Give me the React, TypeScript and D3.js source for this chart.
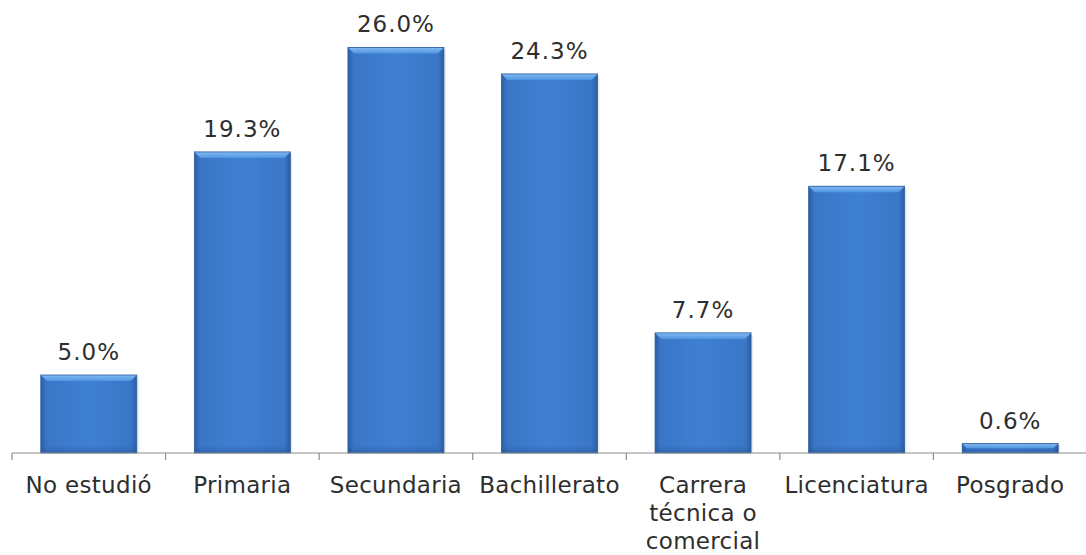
import React from "react";
import * as d3 from "d3";

const categories: string[][] = [
  ["No estudió"],
  ["Primaria"],
  ["Secundaria"],
  ["Bachillerato"],
  ["Carrera", "técnica o", "comercial"],
  ["Licenciatura"],
  ["Posgrado"],
];
const values: number[] = [5.0, 19.3, 26.0, 24.3, 7.7, 17.1, 0.6];
const valueLabels: string[] = ["5.0%", "19.3%", "26.0%", "24.3%", "7.7%", "17.1%", "0.6%"];

const W = 1086;
const H = 555;
const axisY = 453;

export default function App() {
  const ids = categories.map((_, i) => i);
  const x = d3.scaleBand<number>().domain(ids).range([12, 12 + 153.57 * 7]).paddingInner(0).paddingOuter(0);
  const y = d3.scaleLinear().domain([0, 28]).range([axisY, axisY - 28 * 15.6]);
  const bw = x.bandwidth();
  const barW = bw * 0.625;
  const font = "'DejaVu Sans', Verdana, sans-serif";

  return (
    <svg width={W} height={H} style={{ position: "absolute", left: 0, top: 0, background: "#fff" }}>
      <defs>
        <linearGradient id="body" x1="0" x2="1" y1="0" y2="0">
          <stop offset="0" stopColor="#2a5ea6" />
          <stop offset="0.06" stopColor="#3a76c6" />
          <stop offset="0.5" stopColor="#3f80d3" />
          <stop offset="0.94" stopColor="#3a76c6" />
          <stop offset="1" stopColor="#2a5ea6" />
        </linearGradient>
        <linearGradient id="bevel" x1="0" x2="0" y1="0" y2="1">
          <stop offset="0" stopColor="#82b9f2" />
          <stop offset="1" stopColor="#5096e2" />
        </linearGradient>
        <linearGradient id="bottom" x1="0" x2="0" y1="0" y2="1">
          <stop offset="0" stopColor="#2a5ea6" stopOpacity="0" />
          <stop offset="1" stopColor="#22508f" stopOpacity="0.5" />
        </linearGradient>
      </defs>
      {values.map((v, i) => {
        const cx = (x(i) as number) + bw / 2;
        const x0 = cx - barW / 2;
        const top = y(v);
        const h = axisY - top;
        const bev = Math.min(6, h / 2);
        return (
          <g key={i}>
            <rect x={x0 + 2} y={top + 2} width={barW} height={h - 2} fill="#000" opacity={0.08} />
            <rect x={x0} y={top} width={barW} height={h} fill="url(#body)" />
            <rect x={x0} y={axisY - Math.min(8, h)} width={barW} height={Math.min(8, h)} fill="url(#bottom)" />
            <path
              d={`M${x0},${top} L${x0 + barW},${top} L${x0 + barW - bev},${top + bev} L${x0 + bev},${top + bev} Z`}
              fill="url(#bevel)"
            />
            <rect x={x0} y={top} width={barW} height={h} fill="none" stroke="#2b5c9e" strokeWidth={0.8} />
            <text
              x={cx}
              y={top - 15}
              textAnchor="middle"
              fontFamily={font}
              fontSize={23}
              letterSpacing={1}
              fill="#2e2e2e"
            >
              {valueLabels[i]}
            </text>
          </g>
        );
      })}
      <line x1={12} x2={W} y1={axisY} y2={axisY} stroke="#8c8c8c" strokeWidth={1.2} />
      {ids.map((i) => (
        <line key={i} x1={(x(i) as number)} x2={(x(i) as number)} y1={axisY} y2={axisY + 7} stroke="#8c8c8c" strokeWidth={1.2} />
      ))}
      {categories.map((lines, i) => {
        const cx = (x(i) as number) + bw / 2;
        return (
          <text key={i} textAnchor="middle" fontFamily={font} fontSize={23} letterSpacing={0.3} fill="#2e2e2e">
            {lines.map((l, j) => (
              <tspan key={j} x={cx} y={493 + j * 28}>
                {l}
              </tspan>
            ))}
          </text>
        );
      })}
    </svg>
  );
}
